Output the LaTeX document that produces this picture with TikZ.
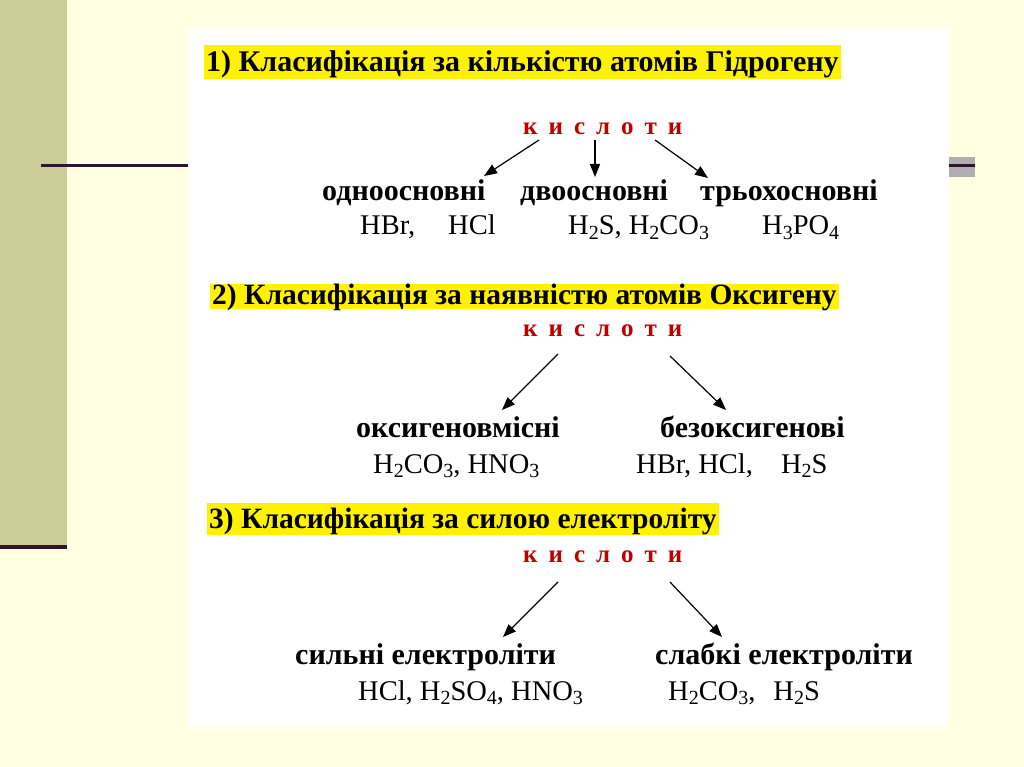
\documentclass[tikz,border=0pt]{standalone}
\usepackage{fontspec}
\setmainfont{Liberation Serif}
\usetikzlibrary{arrows.meta,calc}
\definecolor{bgcream}{RGB}{255,255,226}
\definecolor{band}{RGB}{204,204,153}
\definecolor{darkline}{RGB}{46,20,46}
\definecolor{greybox}{RGB}{176,174,176}
\definecolor{acidred}{RGB}{192,0,0}
\newcommand{\chsub}[1]{\raisebox{-0.35ex}{\fontsize{20}{20}\selectfont #1}}
\newcommand{\kg}{\hspace{11pt}}
\tikzset{
  ttl/.style={fill=yellow,anchor=base west,inner xsep=2pt,inner ysep=2pt,font=\bfseries\fontsize{29.5}{31}\selectfont},
  kis/.style={text=acidred,anchor=base west,inner sep=0pt,font=\bfseries\fontsize{25}{27}\selectfont},
  cls/.style={anchor=base west,inner sep=0pt,font=\bfseries\fontsize{30}{32}\selectfont},
  frm/.style={anchor=base west,inner sep=0pt,font=\fontsize{28.5}{30}\selectfont},
  arr/.style={-{Triangle[length=13pt,width=10pt]},line width=1.2pt,black}
}
\begin{document}
\begin{tikzpicture}[x=1pt,y=-1pt]
\useasboundingbox (0,0) rectangle (1024,767);
\fill[bgcream] (0,0) rectangle (1024,767);
\fill[band] (0,0) rectangle (67,545);
\fill[darkline] (0,545) rectangle (67,549);
\fill[greybox] (949,157) rectangle (975,177);
\fill[white] (188,28) rectangle (949,727);
\draw[darkline,line width=2.5pt] (41,165.5) -- (188,165.5);
\draw[darkline,line width=2.5pt] (949,165.5) -- (975,165.5);
% section 1
\node[ttl,text height=25pt,text depth=5pt,font=\bfseries\fontsize{30}{32}\selectfont] (t1) at (204,72) {1) Класифікація за кількістю атомів Гідрогену};
\node[kis] (k1) at (523,135) {к\kg и\kg с\kg л\kg о\kg т\kg и};
\node[cls] (c1a) at (322,201) {одноосновні};
\node[cls] (c1b) at (520,201) {двоосновні};
\node[cls] (c1c) at (700,201) {трьохосновні};
\node[frm] (f1a) at (360,235) {HBr,};
\node[frm] (f1b) at (448,235) {HCl};
\node[frm] (f1c) at (568,235) {H\chsub{2}S, H\chsub{2}CO\chsub{3}};
\node[frm] (f1d) at (762,235) {H\chsub{3}PO\chsub{4}};
\draw[arr] ($(k1.base west)+(16,5)$) -- ($(c1a.base west)+(162,-25)$);
\draw[arr] ($(k1.base west)+(72,5)$) -- ($(c1b.base west)+(75,-24)$);
\draw[arr] ($(k1.base west)+(132,5)$) -- ($(c1c.base west)+(8,-23)$);
% section 2
\node[ttl,text height=19pt,text depth=3pt,inner ysep=1.5pt] (t2) at (210,304) {2) Класифікація за наявністю атомів Оксигену};
\node[kis] (k2) at (523,336) {к\kg и\kg с\kg л\kg о\kg т\kg и};
\node[cls] (c2a) at (356,437) {оксигеновмісні};
\node[cls] (c2b) at (660,437) {безоксигенові};
\node[frm] (f2a) at (373,473) {H\chsub{2}CO\chsub{3}, HNO\chsub{3}};
\node[frm] (f2b) at (636,473) {HBr, HCl,\hspace{28pt}H\chsub{2}S};
\draw[arr] ($(k2.base west)+(35,18)$) -- ($(c2a.base west)+(146,-27)$);
\draw[arr] ($(k2.base west)+(147,20)$) -- ($(c2b.base west)+(66,-27)$);
% section 3
\node[ttl,text height=23pt,text depth=5pt] (t3) at (207,528) {3) Класифікація за силою електроліту};
\node[kis] (k3) at (523,562) {к\kg и\kg с\kg л\kg о\kg т\kg и};
\node[cls] (c3a) at (295,664) {сильні електроліти};
\node[cls] (c3b) at (655,664) {слабкі електроліти};
\node[frm] (f3a) at (358,700) {HCl, H\chsub{2}SO\chsub{4}, HNO\chsub{3}};
\node[frm] (f3b) at (668,700) {H\chsub{2}CO\chsub{3},\hspace{18pt}H\chsub{2}S};
\draw[arr] ($(k3.base west)+(35,20)$) -- ($(c3a.base west)+(208,-27)$);
\draw[arr] ($(k3.base west)+(147,20)$) -- ($(c3b.base west)+(67,-27)$);
\end{tikzpicture}
\end{document}
